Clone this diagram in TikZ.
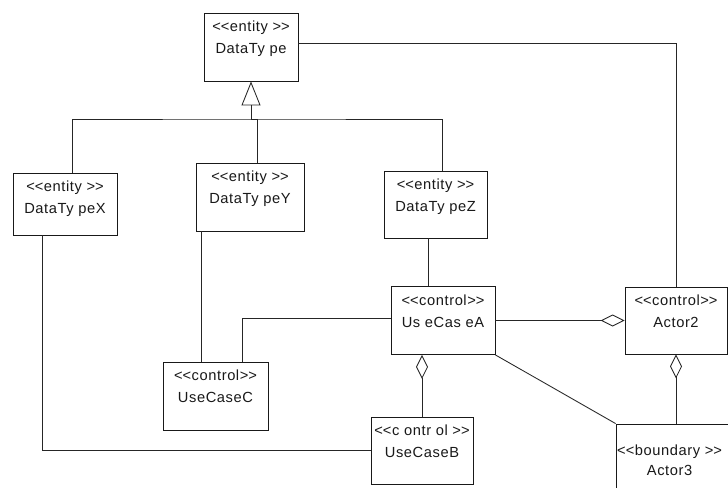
\documentclass[tikz,border=0pt]{standalone}
\usepackage{fontspec}
\setmainfont{Liberation Sans}[LetterSpace=4]
\usetikzlibrary{arrows.meta,calc}
% stereotype brackets, kept apart so they are not merged into guillemets
\newcommand\sopen{<\kern0pt<}
\newcommand\sclose{>\kern0pt>}
% a class box with a stereotype line and a name line
\newcommand\umlclass[7]{%
  \node[box, minimum width=#4*0.75pt, minimum height=#5*0.75pt] (#1) at (#2,#3) {};
  \node[txt, anchor=base] (#1-st) at ($(#1.north)+(0,19)$) {#6};
  \node[txt, anchor=base] (#1-nm) at ($(#1.north)+(0,41)$) {#7};
}
\begin{document}
\begin{tikzpicture}[x=0.75pt,y=-0.75pt,
  box/.style={draw=black!90, line width=0.65pt, fill=white, inner sep=0pt},
  txt/.style={font=\fontsize{11pt}{13pt}\selectfont, inner sep=0pt, text=black!90},
  link/.style={draw=black!85, line width=0.65pt},
  gen/.style={link, -{Triangle[open, length=18pt, width=14.25pt]}},
  agg/.style={link, -{Diamond[open, length=18pt, width=9pt]}}]
\useasboundingbox (0,0) rectangle (728,488);
\clip (0,0) rectangle (728,488);

% classes
\umlclass{dt}{251}{47}{94}{68}{\sopen entity \sclose}{DataTy pe}
\umlclass{dtx}{65}{204}{104}{62}{\sopen entity \sclose}{DataTy peX}
\umlclass{dty}{250}{197}{108}{68}{\sopen entity \sclose}{DataTy peY}
\umlclass{dtz}{435.5}{204.5}{103}{67}{\sopen entity \sclose}{DataTy peZ}
\umlclass{uca}{443}{320.5}{104}{68}{\sopen control\sclose}{Us eCas eA}
\umlclass{ucc}{215.5}{396}{105}{68}{\sopen control\sclose}{UseCaseC}
\umlclass{ucb}{422}{450.5}{102}{67}{\sopen c ontr ol \sclose}{UseCaseB}
\umlclass{a2}{676}{320.5}{102}{67}{\sopen control\sclose}{Actor2}

% boundary class running off the page
\node[box, minimum width=124*0.75pt, minimum height=76*0.75pt] (a3) at (678,462) {};
\node[txt, anchor=base] (a3-st) at ($(a3.north west)+(54,32)$) {\sopen boundary \sclose};
\node[txt, anchor=base] (a3-nm) at ($(a3.north west)+(54,52)$) {Actor3};

% generalization tree
\coordinate (bus) at (251,119);
\draw[link] ($(dtx.north west)+(60,0)$) |- (bus) -| ($(dtz.north west)+(59,0)$);
\draw[link] ($(dty.north west)+(62,0)$) |- (bus);
\draw[gen] (bus) -- (dt.south);

% associations
\draw[link] ($(dt.north east)+(0,31)$) -| (a2.north);
\draw[link] ($(dtx.south west)+(30,0)$) |- (ucb.west);
\draw[link] ($(dty.south west)+(6,0)$) -- ($(ucc.north west)+(39,0)$);
\draw[link] ($(ucc.north west)+(80,0)$) |- ($(uca.west)+(0,-2)$);
\draw[link] ($(dtz.south west)+(45,0)$) -- ($(uca.north west)+(38,0)$);
\draw[link] (uca.south east) -- (a3.north west);

% aggregations
\draw[agg] (uca.east) -- (a2.west);
\draw[agg] (ucb.north) -- (ucb.north |- uca.south);
\draw[agg] (a2.south |- a3.north) -- (a2.south);
\end{tikzpicture}
\end{document}
